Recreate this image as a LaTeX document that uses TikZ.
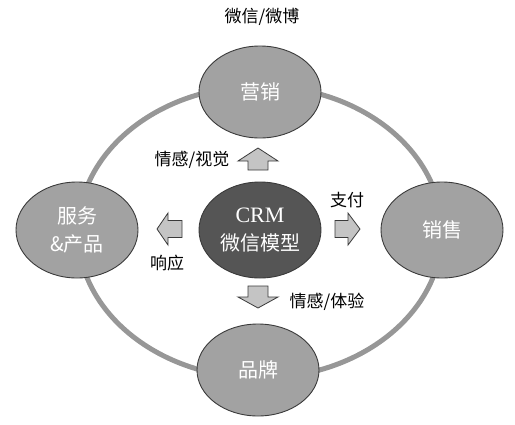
\documentclass[tikz,border=0pt]{standalone}
\usepackage{fontspec}
\setmainfont{Liberation Serif}
\newfontfamily\cjk{Noto Sans CJK SC}
\usetikzlibrary{shapes.geometric}
\definecolor{ringgray}{HTML}{979797}
\definecolor{nodegray}{HTML}{A2A2A2}
\definecolor{coregray}{HTML}{555555}
\definecolor{edgegray}{HTML}{3A3A3A}
\definecolor{arrowgray}{HTML}{C4C4C4}
\tikzset{
  x=1pt, y=-1pt,
  bubble/.style={ellipse, draw=edgegray, line width=0.9pt, fill=nodegray,
    minimum width=122pt, minimum height=92pt, inner sep=0pt,
    text=white, font=\cjk\fontsize{20}{28}\selectfont, align=center},
  core/.style={bubble, fill=coregray, minimum height=96pt},
  lbl/.style={font=\cjk\fontsize{17}{19}\selectfont, text=black, inner sep=0pt},
  blk/.style={draw=edgegray, line width=0.8pt, fill=arrowgray, line join=miter},
}
% block arrow: #1 centre, #2 angle, #3 length, #4 head width, #5 shaft width, #6 head length
\newcommand{\blockarr}[6]{%
  \begin{scope}[shift={#1}, rotate=#2]
    \draw[blk] (-#3/2, -#5/2) -- (#3/2-#6, -#5/2) -- (#3/2-#6, -#4/2) -- (#3/2, 0)
      -- (#3/2-#6, #4/2) -- (#3/2-#6, #5/2) -- (-#3/2, #5/2) -- cycle;
  \end{scope}}
\begin{document}
\begin{tikzpicture}
\useasboundingbox (0,0) rectangle (515,424);
% ring
\draw[ringgray, line width=5pt] (260,232) ellipse [x radius=182pt, y radius=146pt];
% nodes
\node[bubble] (mkt) at (260,92) {营销};
\node[bubble, minimum height=96pt] (svc) at (77,230) {服务\\\&产品};
\node[bubble, minimum height=96pt] (sale) at (442,230) {销售};
\node[bubble] (brand) at (258,370) {品牌};
\node[core] (crm) at (260,230) {{\rmfamily\fontsize{22}{28}\selectfont CRM}\\微信模型};
% block arrows
\blockarr{(258,159)}{90}{22}{40}{20}{13}
\blockarr{(258,297)}{-90}{22}{40}{20}{11}
\blockarr{(169.5,229)}{180}{25}{32}{17}{11}
\blockarr{(347.5,229)}{0}{25}{32}{17}{12}
% labels
\node[lbl] (t1) at (262,17) {微信/微博};
\node[lbl] (t2) at (192,160) {情感/视觉};
\node[lbl] (t3) at (347,200) {支付};
\node[lbl] (t4) at (167,263) {响应};
\node[lbl] (t5) at (327,302) {情感/体验};
\end{tikzpicture}
\end{document}
